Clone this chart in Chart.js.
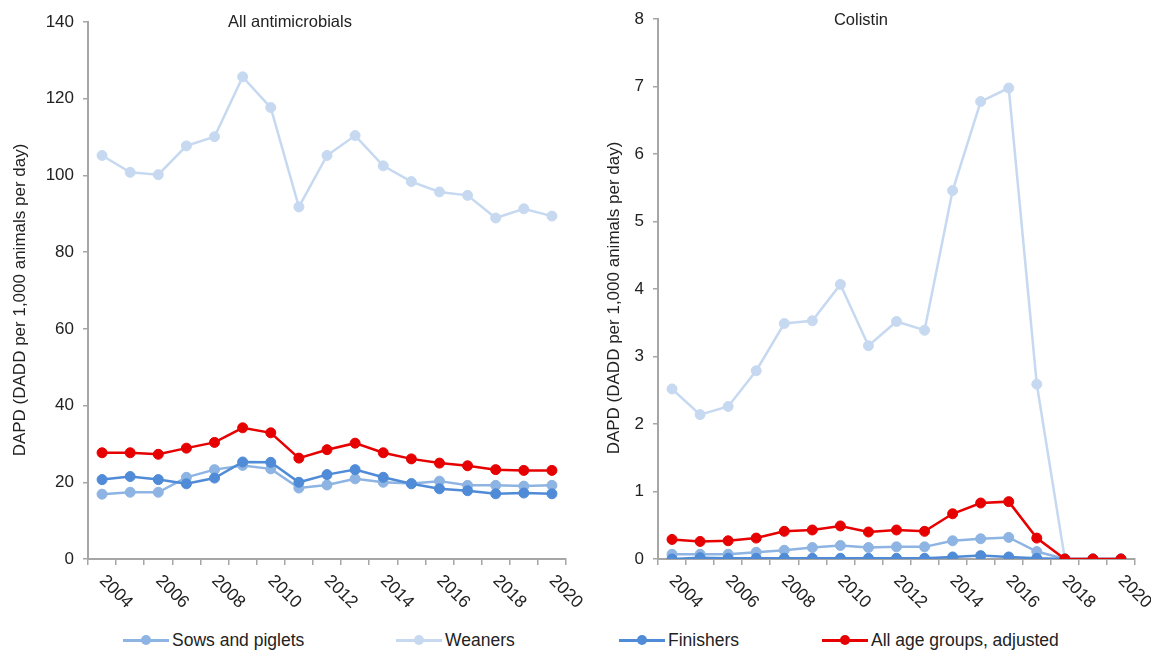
<!DOCTYPE html>
<html>
<head>
<meta charset="utf-8">
<script src="https://cdn.jsdelivr.net/npm/chart.js@4.4.1/dist/chart.umd.min.js"></script>
<style>
  body { margin: 0; background: #fff; font-family: "Liberation Sans", Arial, sans-serif; }
  #wrap { position: relative; width: 1151px; height: 650px; overflow: hidden; }
  #leftBox { position: absolute; left: 0; top: 0; width: 610px; height: 620px; }
  #rightBox { position: absolute; left: 580px; top: 0; width: 571px; height: 620px; }
  .leg { position: absolute; top: 630px; height: 20px; font-size: 17.5px; color: #222; line-height: 20px; white-space: nowrap; }
  .leg .ln { position: absolute; left: 0; top: 9px; width: 46px; height: 2.5px; }
  .leg .dot { position: absolute; left: 18px; top: 5px; width: 10px; height: 10px; border-radius: 50%; }
  .leg .tx { position: absolute; left: 49px; top: 0; }
</style>
</head>
<body>
<div id="wrap">
  <div id="leftBox"><canvas id="left"></canvas></div>
  <div id="rightBox"><canvas id="right"></canvas></div>
  <div id="legend"></div>
</div>
<script>
// categories
const years = ['2004', '2005', '2006', '2007', '2008', '2009', '2010', '2011', '2012',
               '2013', '2014', '2015', '2016', '2017', '2018', '2019', '2020'];
const tickLabels = ['2004', '2006', '2008', '2010', '2012', '2014', '2016', '2018', '2020'];

// All antimicrobials
const allSows = [16.9, 17.4, 17.4, 21.3, 23.3, 24.4, 23.5, 18.5, 19.3, 20.9, 20.0, 19.7, 20.3, 19.2, 19.2, 19.0, 19.2];
const allWeaners = [105.2, 100.8, 100.2, 107.7, 110.1, 125.7, 117.7, 91.8, 105.2, 110.4, 102.5, 98.4, 95.7, 94.8, 88.9, 91.3, 89.4];
const allFinishers = [20.7, 21.5, 20.7, 19.6, 21.1, 25.3, 25.2, 20.0, 22.0, 23.3, 21.3, 19.6, 18.3, 17.8, 17.0, 17.2, 17.0];
const allAdjusted = [27.7, 27.7, 27.3, 28.9, 30.4, 34.2, 32.9, 26.3, 28.5, 30.2, 27.7, 26.1, 25.0, 24.3, 23.3, 23.1, 23.1];

// Colistin
const colSows = [0.07, 0.07, 0.07, 0.10, 0.13, 0.17, 0.20, 0.17, 0.18, 0.18, 0.27, 0.30, 0.32, 0.11, 0, 0, 0];
const colWeaners = [2.52, 2.14, 2.26, 2.79, 3.49, 3.53, 4.07, 3.16, 3.52, 3.39, 5.46, 6.78, 6.98, 2.59, 0, 0, 0];
const colFinishers = [0.0, 0.02, 0.01, 0.01, 0.01, 0.01, 0.01, 0.01, 0.01, 0.01, 0.03, 0.05, 0.03, 0.01, 0, 0, 0];
const colAdjusted = [0.29, 0.26, 0.27, 0.31, 0.41, 0.43, 0.49, 0.40, 0.43, 0.41, 0.67, 0.83, 0.85, 0.31, 0, 0, 0];

const seriesNames = ['Sows and piglets', 'Weaners', 'Finishers', 'All age groups, adjusted'];
const seriesColors = ['#8DB4E2', '#C6D9F0', '#4F8BD6', '#E60000'];
const seriesOrder = [3, 2, 1, 0];

const axisGrey = '#A6A6A6';
const textColor = '#222';
const font = 'Liberation Sans, Arial, sans-serif';
const yTitle = 'DAPD (DADD per 1,000 animals per day)';

function makeDatasets(lists) {
    return lists.map((vals, i) => ({
        label: seriesNames[i],
        data: vals,
        borderColor: seriesColors[i],
        backgroundColor: seriesColors[i],
        pointBackgroundColor: seriesColors[i],
        pointBorderColor: seriesColors[i],
        borderWidth: 2.5,
        pointRadius: 5,
        pointBorderWidth: 1,
        tension: 0,
        order: seriesOrder[i]
    }));
}

// rotated year labels, panel title and y title
const panelText = {
    id: 'panelText',
    afterDraw(chart, args, opts) {
        const ctx = chart.ctx;
        const xs = chart.scales.x;
        ctx.save();
        ctx.fillStyle = textColor;
        ctx.font = '17.5px ' + font;
        ctx.textAlign = 'left';
        ctx.textBaseline = 'middle';
        years.forEach((y, i) => {
            if (!tickLabels.includes(y)) return;
            const px = xs.getPixelForValue(i);
            ctx.save();
            ctx.translate(px, xs.top + 19);
            ctx.rotate(Math.PI / 4);
            ctx.fillText(y, 0, 0);
            ctx.restore();
        });
        ctx.textAlign = 'center';
        ctx.font = '16.5px ' + font;
        ctx.fillText(opts.title, opts.titleX, opts.titleY);
        ctx.font = '17px ' + font;
        ctx.translate(opts.yTitleX, opts.yTitleY);
        ctx.rotate(-Math.PI / 2);
        ctx.fillText(yTitle, 0, 0);
        ctx.restore();
    }
};

function buildChart(canvas, lists, cfg) {
    const ctx = canvas.getContext('2d');
    const config = {
        type: 'line',
        data: {
            labels: years,
            datasets: makeDatasets(lists)
        },
        options: {
            responsive: true,
            maintainAspectRatio: false,
            animation: false,
            layout: {
                padding: { top: cfg.top, right: cfg.right, bottom: 0, left: 0 }
            },
            plugins: {
                legend: { display: false },
                tooltip: { enabled: false },
                panelText: { title: cfg.title, titleX: cfg.titleX, titleY: cfg.titleY, yTitleX: cfg.yTitleX, yTitleY: cfg.yTitleY }
            },
            scales: {
                x: {
                    type: 'category',
                    offset: true,
                    border: { display: true, color: axisGrey, width: 2 },
                    grid: {
                        offset: true,
                        drawOnChartArea: false,
                        drawTicks: true,
                        tickLength: 6,
                        color: axisGrey,
                        lineWidth: 1.5
                    },
                    ticks: { display: false, autoSkip: false },
                    afterFit(scale) { scale.height = 61; }
                },
                y: {
                    min: 0,
                    max: cfg.max,
                    border: { display: true, color: axisGrey, width: 2 },
                    grid: {
                        drawOnChartArea: false,
                        drawTicks: true,
                        tickLength: 5,
                        color: axisGrey,
                        lineWidth: 1.5
                    },
                    ticks: {
                        stepSize: cfg.step,
                        padding: 9,
                        color: textColor,
                        font: { family: font, size: 17 }
                    },
                    afterFit(scale) { scale.width = cfg.yWidth; }
                }
            }
        },
        plugins: [panelText]
    };
    return new Chart(ctx, config);
}

buildChart(document.getElementById('left'),
    [allSows, allWeaners, allFinishers, allAdjusted],
    { top: 22, right: 44, max: 140, step: 20, yWidth: 88, title: 'All antimicrobials', titleX: 290, titleY: 22, yTitleX: 20, yTitleY: 300 });

buildChart(document.getElementById('right'),
    [colSows, colWeaners, colFinishers, colAdjusted],
    { top: 19, right: 16, max: 8, step: 1, yWidth: 78, title: 'Colistin', titleX: 281, titleY: 20, yTitleX: 34, yTitleY: 298 });

// shared legend along the bottom
const legendX = [123, 396, 619, 822];
const legend = document.getElementById('legend');
seriesNames.forEach((name, i) => {
    const item = document.createElement('div');
    item.className = 'leg';
    item.style.left = legendX[i] + 'px';
    item.innerHTML = '<span class="ln" style="background:' + seriesColors[i] + '"></span>' +
        '<span class="dot" style="background:' + seriesColors[i] + '"></span>' +
        '<span class="tx">' + name + '</span>';
    legend.appendChild(item);
});
</script>
</body>
</html>
